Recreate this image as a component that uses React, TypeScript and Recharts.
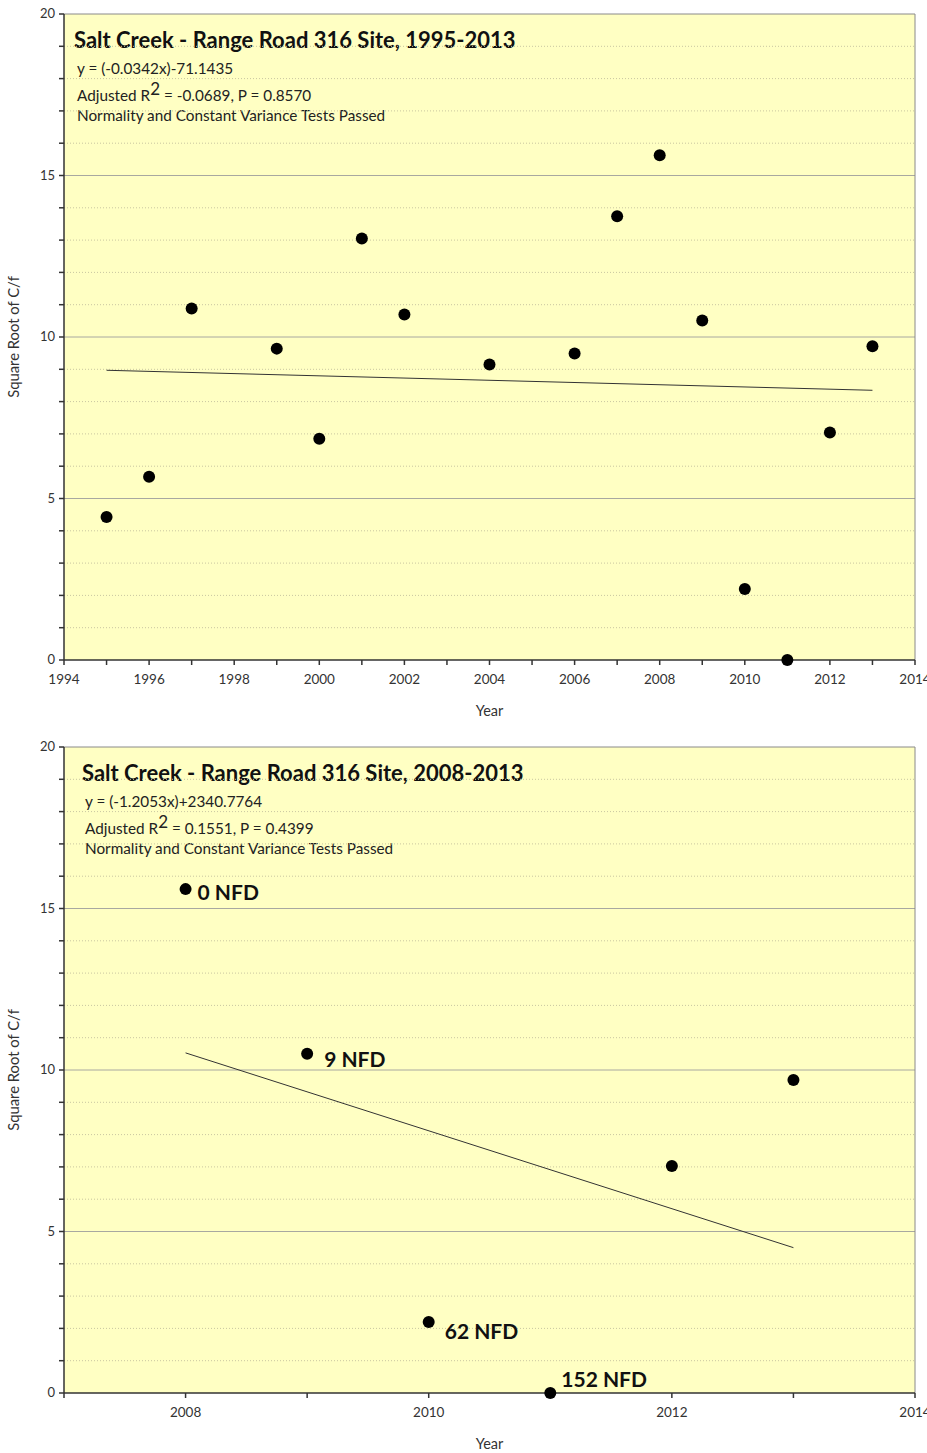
import { ScatterChart, Scatter, XAxis, YAxis, ReferenceLine, CartesianGrid, LabelList, Customized } from 'recharts'

// full record 1995-2013
const YEARS_ALL = [1995, 1996, 1997, 1999, 2000, 2001, 2002, 2004, 2006, 2007, 2008, 2009, 2010, 2011, 2012, 2013]
const SQRT_CF_ALL = [4.43, 5.67, 10.88, 9.64, 6.85, 13.05, 10.7, 9.15, 9.49, 13.74, 15.63, 10.51, 2.2, 0, 7.04, 9.71]
const TREND_ALL_YEARS = [1995, 2013]
const TREND_ALL_VALUES = [8.97, 8.35]

// recent record 2008-2013
const YEARS_RECENT = [2008, 2009, 2010, 2011, 2012, 2013]
const SQRT_CF_RECENT = [15.6, 10.5, 2.2, 0, 7.03, 9.69]
const NFD_LABELS = ['0 NFD', '9 NFD', '62 NFD', '152 NFD', '', '']
const TREND_RECENT_YEARS = [2008, 2013]
const TREND_RECENT_VALUES = [10.53, 4.5]

const Y_TICKS = Array.from({ length: 21 }, (_, i) => i)
const Y_MINOR = Y_TICKS.filter((v) => v > 0 && v < 20 && v % 5 !== 0)
const Y_MAJOR = [5, 10, 15]
const X_TICKS_ALL = Array.from({ length: 21 }, (_, i) => 1994 + i)
const X_TICKS_RECENT = Array.from({ length: 8 }, (_, i) => 2007 + i)

const FONT = 'Lato, "Open Sans", sans-serif'
const PLOT_FILL = '#FFFFC3'

const NFD_OFFSETS: Record<string, [number, number]> = {
  '0 NFD': [12, 11],
  '9 NFD': [17, 13],
  '62 NFD': [16, 17],
  '152 NFD': [11, -6],
}

interface PanelProps {
  title: string
  equation: string
  r2: string
  p: string
  years: number[]
  values: number[]
  labels?: string[]
  trendYears: number[]
  trendValues: number[]
  xDomain: [number, number]
  xTicks: number[]
  height: number
  top: number
  textShift: number
}

function Panel({ title, equation, r2, p, years, values, labels, trendYears, trendValues, xDomain, xTicks, height, top, textShift }: PanelProps) {
  const points = years.map((x, i) => ({ x, y: values[i], label: labels ? labels[i] : '' }))
  const trend = trendYears.map((x, i) => ({ x, y: trendValues[i] }))
  const plotLeft = 64
  const axisH = height - top - 646

  const yTick = (props: any) => {
    const { x, y, payload } = props
    if (payload.value % 5 !== 0) return <g />
    return (
      <text x={x - 2} y={y + 4} textAnchor="end" fontSize={13} fill="#333" fontFamily={FONT}>
        {payload.value}
      </text>
    )
  }
  const xTick = (props: any) => {
    const { x, y, payload } = props
    if (payload.value % 2 !== 0) return <g />
    return (
      <text x={x} y={y + 17} textAnchor="middle" fontSize={13.5} fill="#333" fontFamily={FONT}>
        {payload.value}
      </text>
    )
  }

  const nfdLabel = (props: any) => {
    const { x, y, width, height: h, value } = props
    if (!value) return null
    const [dx, dy] = NFD_OFFSETS[value] ?? [12, 6]
    const cx = x + width / 2
    const cy = y + h / 2
    return (
      <text x={cx + dx} y={cy + dy} fontSize={21} fontWeight={700} fill="#111" fontFamily={FONT}>
        {value}
      </text>
    )
  }

  const Annotation = () => (
    <g fontFamily={FONT}>
      <text x={plotLeft + 10 + textShift} y={top + 34} fontSize={22} fontWeight={700} fill="#111">
        {title}
      </text>
      <text x={plotLeft + 13 + textShift} y={top + 60} fontSize={15.3} fill="#222">
        {equation}
      </text>
      <text x={plotLeft + 13 + textShift} y={top + 87} fontSize={15.3} fill="#222">
        Adjusted R
        <tspan dy={-6} fontSize={17}>2</tspan>
        <tspan dy={6}>{` = ${r2}, P = ${p}`}</tspan>
      </text>
      <text x={plotLeft + 13 + textShift} y={top + 107} fontSize={15.3} fill="#222">
        Normality and Constant Variance Tests Passed
      </text>
    </g>
  )

  return (
    <ScatterChart width={927} height={height} margin={{ top, right: 12, bottom: 0, left: 0 }}>
      <CartesianGrid horizontal={false} vertical={false} fill={PLOT_FILL} fillOpacity={1} />
      <XAxis
        type="number"
        dataKey="x"
        domain={xDomain}
        ticks={xTicks}
        interval={0}
        tick={xTick}
        tickSize={5}
        height={axisH}
        stroke="#333"
        strokeWidth={1.5}
        allowDecimals={false}
        label={{ value: 'Year', position: 'insideBottom', offset: axisH - 56, fontSize: 14.5, fill: '#333', fontFamily: FONT }}
      />
      <YAxis
        type="number"
        dataKey="y"
        domain={[0, 20]}
        ticks={Y_TICKS}
        interval={0}
        tick={yTick}
        tickSize={5}
        width={plotLeft}
        stroke="#333"
        strokeWidth={1.5}
        label={{ value: 'Square Root of C/f', angle: -90, position: 'insideLeft', offset: 14, style: { textAnchor: 'middle' }, fontSize: 14.8, fill: '#333', fontFamily: FONT }}
      />
      {Y_MINOR.map((v) => (
        <ReferenceLine key={v} y={v} stroke="#c9c6a0" strokeDasharray="1 2" strokeWidth={1} />
      ))}
      {Y_MAJOR.map((v) => (
        <ReferenceLine key={v} y={v} stroke="#a8a8a0" strokeWidth={1} />
      ))}
      <ReferenceLine y={20} stroke="#8a8a8a" strokeWidth={1} />
      <ReferenceLine x={xDomain[1]} stroke="#8a8a8a" strokeWidth={1} />
      <Scatter
        data={trend}
        line={{ stroke: '#333', strokeWidth: 1 }}
        shape={() => <g />}
        isAnimationActive={false}
      />
      <Scatter
        data={points}
        shape={(s: any) => <circle cx={s.cx} cy={s.cy} r={6} fill="#000" />}
        isAnimationActive={false}
      >
        {labels && <LabelList dataKey="label" content={nfdLabel} />}
      </Scatter>
      <Customized component={Annotation} />
    </ScatterChart>
  )
}

export default function App() {
  return (
    <div style={{ width: 927, height: 1453, background: '#fff', position: 'absolute', left: 0, top: 0 }}>
      <style>{'body{margin:0}'}</style>
      <Panel
        title="Salt Creek - Range Road 316 Site, 1995-2013"
        equation="y = (-0.0342x)-71.1435"
        r2="-0.0689"
        p="0.8570"
        years={YEARS_ALL}
        values={SQRT_CF_ALL}
        trendYears={TREND_ALL_YEARS}
        trendValues={TREND_ALL_VALUES}
        xDomain={[1994, 2014]}
        xTicks={X_TICKS_ALL}
        height={730}
        top={14}
        textShift={0}
      />
      <Panel
        title="Salt Creek - Range Road 316 Site, 2008-2013"
        equation="y = (-1.2053x)+2340.7764"
        r2="0.1551"
        p="0.4399"
        years={YEARS_RECENT}
        values={SQRT_CF_RECENT}
        labels={NFD_LABELS}
        trendYears={TREND_RECENT_YEARS}
        trendValues={TREND_RECENT_VALUES}
        xDomain={[2007, 2014]}
        xTicks={X_TICKS_RECENT}
        height={723}
        top={17}
        textShift={8}
      />
    </div>
  )
}
